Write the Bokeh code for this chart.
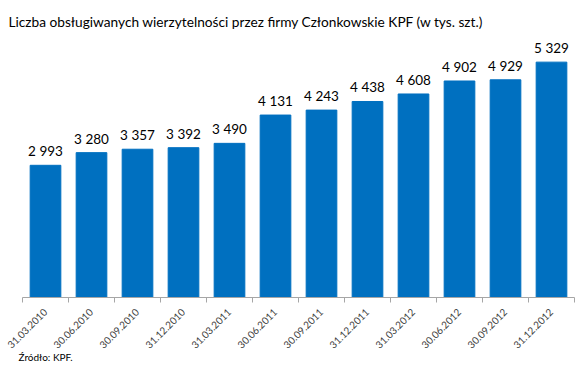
import math
from bokeh.plotting import figure
from bokeh.models import ColumnDataSource, FixedTicker, Title, Range1d, LabelSet
from bokeh.core.properties import value
from bokeh.embed import file_html
from bokeh.resources import INLINE

dates = ["31.03.2010", "30.06.2010", "30.09.2010", "31.12.2010", "31.03.2011", "30.06.2011",
         "30.09.2011", "31.12.2011", "31.03.2012", "30.06.2012", "30.09.2012", "31.12.2012"]
values = [2993, 3280, 3357, 3392, 3490, 4131, 4243, 4438, 4608, 4902, 4929, 5329]
value_labels = ["2 993", "3 280", "3 357", "3 392", "3 490", "4 131", "4 243", "4 438",
                "4 608", "4 902", "4 929", "5 329"]
title_text = "Liczba obsługiwanych wierzytelności przez firmy Członkowskie KPF (w tys. szt.)"
source_text = "Źródło: KPF."

FONT = "Lato"
idx = list(range(len(dates)))
src = ColumnDataSource(dict(x=idx, top=values, lab=value_labels))

W, H = 585, 372
L, R, T, B = 22, 11, 32, 75
p = figure(width=W, height=H, output_backend="svg", toolbar_location=None,
           x_range=Range1d(-0.5, len(dates) - 0.5), y_range=Range1d(0, 6000),
           min_border_left=L, min_border_right=R, min_border_top=T, min_border_bottom=B)
p.outline_line_color = None
p.xgrid.visible = False
p.ygrid.visible = False
p.yaxis.visible = False

p.vbar(x="x", top="top", width=0.667, source=src, color="#0070C0")

p.add_layout(LabelSet(x="x", y="top", text="lab", source=src, text_align="center",
                      text_baseline="bottom", y_offset=6, text_font=value(FONT),
                      text_font_size=value("13.5px"), text_color=value("#000000")))

ax = p.xaxis[0]
ax.ticker = FixedTicker(ticks=idx, minor_ticks=[i - 0.5 for i in range(len(dates) + 1)])
ax.major_label_overrides = {i: d for i, d in enumerate(dates)}
ax.major_label_orientation = math.pi / 4
ax.major_label_text_font = FONT
ax.major_label_text_font_size = "10px"
ax.major_label_text_color = "#404040"
ax.major_tick_in = 0
ax.major_tick_out = 0
ax.minor_tick_in = 0
ax.minor_tick_out = 5
ax.axis_line_color = "#A6A6A6"
ax.minor_tick_line_color = "#A6A6A6"
ax.major_label_standoff = 8

p.add_layout(Title(text=title_text, align="left", offset=-14, standoff=6,
                   text_font=FONT, text_font_size="13.7px", text_font_style="normal",
                   text_color="#000000"), "above")
p.add_layout(Title(text=source_text, align="left", offset=-4, standoff=-12,
                   text_font=FONT, text_font_size="10px", text_font_style="normal",
                   text_color="#000000"), "below")

open("out.html", "w").write(file_html(p, INLINE))
